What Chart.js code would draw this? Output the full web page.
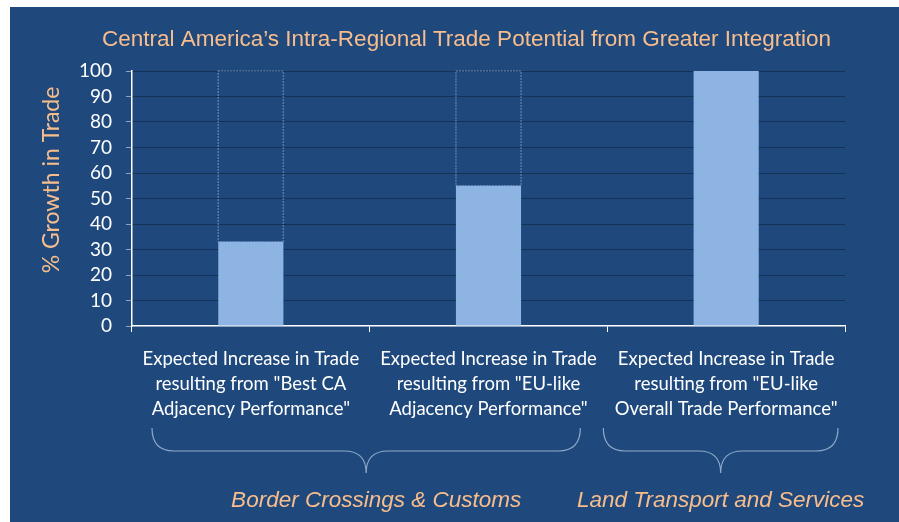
<!DOCTYPE html>
<html>
<head>
<meta charset="utf-8">
<title>Central America's Intra-Regional Trade Potential</title>
<script src="https://cdn.jsdelivr.net/npm/chart.js@4"></script>
<style>
  html, body { margin: 0; padding: 0; background: #ffffff; }
  #wrap { width: 899px; height: 522px; }
</style>
</head>
<body>
<div id="wrap"><canvas id="tradeChart"></canvas></div>
<script>
const categories = [
  ["Expected Increase in Trade", "resulting from \"Best CA", "Adjacency Performance\""],
  ["Expected Increase in Trade", "resulting from \"EU-like", "Adjacency Performance\""],
  ["Expected Increase in Trade", "resulting from \"EU-like", "Overall Trade Performance\""],
];
const growth = [33, 55, 100];
const potential = [100, 100, 100];
const yTicks = [0, 10, 20, 30, 40, 50, 60, 70, 80, 90, 100];

const groupLabels = ["Border Crossings & Customs", "Land Transport and Services"];
const groupFirst = [0, 2];
const groupLast = [1, 2];

const chartTitle = "Central America\u2019s Intra-Regional Trade Potential from Greater Integration";
const yTitle = "% Growth in Trade";

const BG = "#1f497d";
const ORANGE = "#f8bd8c";
const BAR = "#8db4e2";

// white frame + dark blue panel behind everything
const panel = {
  id: "panel",
  beforeDraw(chart) {
    const { ctx, width, height } = chart;
    ctx.save();
    ctx.fillStyle = "#ffffff";
    ctx.fillRect(0, 0, width, height);
    ctx.fillStyle = BG;
    ctx.fillRect(10, 7, width - 10, height - 7);
    ctx.restore();
  },
};

// dotted outline showing the remaining potential above each bar
const potentialOutline = {
  id: "potentialOutline",
  afterDatasetsDraw(chart) {
    const { ctx } = chart;
    const meta = chart.getDatasetMeta(1);
    ctx.save();
    ctx.setLineDash([2, 1]);
    ctx.strokeStyle = "rgba(141,180,226,0.45)";
    ctx.lineWidth = 1.5;
    meta.data.forEach((bar) => {
      const { x, y, base, width } = bar.getProps(["x", "y", "base", "width"], true);
      if (Math.abs(base - y) < 1) return;
      ctx.strokeRect(x - width / 2, y, width, base - y);
    });
    ctx.restore();
  },
};

// titles, braces and the group captions under the axis
const annotations = {
  id: "annotations",
  afterDraw(chart, args, opts) {
    const { ctx, chartArea } = chart;
    const x = chart.scales.x;
    const step = x.getPixelForValue(1) - x.getPixelForValue(0);
    const bottom = chartArea.bottom;

    ctx.save();
    ctx.fillStyle = ORANGE;
    ctx.textAlign = "center";
    ctx.textBaseline = "middle";
    ctx.font = "22.5px 'Liberation Sans', Arial, sans-serif";
    ctx.fillText(chartTitle, (chartArea.left + chartArea.right) / 2 - 22, chartArea.top - 31);
    ctx.font = "23px Lato";
    ctx.translate(chartArea.left - 80, chartArea.top + 109);
    ctx.rotate(-Math.PI / 2);
    ctx.fillText(yTitle, 0, 0);
    ctx.restore();

    groupLabels.forEach((label, i) => {
      const left = x.getPixelForValue(groupFirst[i]) - step / 2 + opts.insets[i][0];
      const right = x.getPixelForValue(groupLast[i]) + step / 2 - opts.insets[i][1];
      const tip = (left + right) / 2;
      const top = bottom + 102;
      const mid = bottom + 125;
      const low = bottom + 147;
      const r = 22;

      ctx.save();
      ctx.strokeStyle = "#8fa9c9";
      ctx.lineWidth = 1.2;
      ctx.beginPath();
      ctx.moveTo(left, top);
      ctx.quadraticCurveTo(left, mid, left + r, mid);
      ctx.lineTo(tip - r, mid);
      ctx.quadraticCurveTo(tip, mid, tip, low);
      ctx.quadraticCurveTo(tip, mid, tip + r, mid);
      ctx.lineTo(right - r, mid);
      ctx.quadraticCurveTo(right, mid, right, top);
      ctx.stroke();

      ctx.fillStyle = ORANGE;
      ctx.font = "italic 22.5px 'Liberation Sans', Arial, sans-serif";
      ctx.textAlign = "center";
      ctx.textBaseline = "middle";
      ctx.fillText(label, tip + opts.textShift[i], bottom + 175);
      ctx.restore();
    });
  },
};

const ctx = document.getElementById("tradeChart").getContext("2d");
const chart = new Chart(ctx, {
  type: "bar",
  data: {
    labels: categories,
    datasets: [
      {
        label: yTitle,
        data: growth,
        backgroundColor: BAR,
        borderWidth: 0,
        grouped: false,
        categoryPercentage: 1,
        barPercentage: 0.274,
        order: 1,
      },
      {
        label: "Potential",
        data: growth.map((g, i) => [g, potential[i]]),
        backgroundColor: "rgba(0,0,0,0)",
        borderWidth: 0,
        grouped: false,
        categoryPercentage: 1,
        barPercentage: 0.274,
        order: 2,
      },
    ],
  },
  options: {
    responsive: true,
    maintainAspectRatio: false,
    animation: false,
    layout: { padding: { left: 10, right: 54, top: 71, bottom: 100 } },
    plugins: {
      legend: { display: false },
      tooltip: { enabled: false },
      title: { display: false },
      annotations: {
        insets: [[20, 27], [-4, 7]],
        textShift: [10, 0],
      },
    },
    scales: {
      x: {
        grid: {
          offset: true,
          drawOnChartArea: false,
          drawTicks: true,
          tickLength: 6,
          tickColor: "#ffffff",
          tickWidth: 1,
        },
        border: { color: "#ffffff", width: 1.5 },
        ticks: {
          color: "#ffffff",
          font: { family: "Lato", size: 18.5, lineHeight: 1.35 },
          padding: 15,
          maxRotation: 0,
          autoSkip: false,
        },
        afterFit(s) { s.height = 96; },
      },
      y: {
        min: 0,
        max: 100,
        afterBuildTicks(s) { s.ticks = yTicks.map((v) => ({ value: v })); },
        grid: {
          color: (c) => (c.tick && c.tick.value === 0 ? "rgba(0,0,0,0)" : "#0b1b30"),
          lineWidth: 1,
          drawTicks: true,
          tickLength: 6,
          tickColor: "#8fa3bd",
          tickBorderDash: [],
        },
        border: { color: "#ffffff", width: 1.5, dash: [1, 1] },
        ticks: {
          color: "#ffffff",
          font: { family: "Lato", size: 19 },
          padding: 14,
          autoSkip: false,
        },
        afterFit(s) { s.width = 122; },
      },
    },
  },
  plugins: [panel, potentialOutline, annotations],
});
</script>
</body>
</html>
